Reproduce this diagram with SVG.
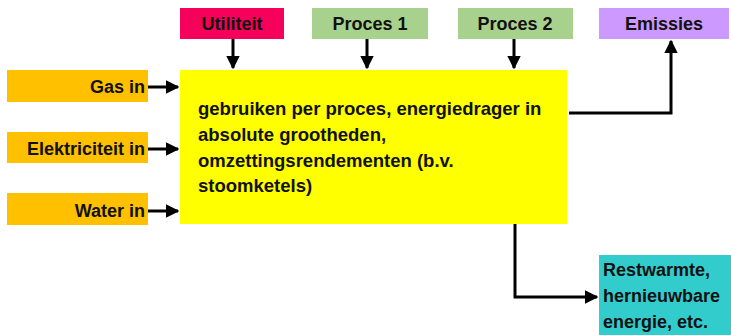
<svg xmlns="http://www.w3.org/2000/svg" width="731" height="335" viewBox="0 0 731 335">
<style>
text{font-family:"Liberation Sans",Arial,sans-serif;font-weight:bold;fill:#111;}
.lbl{font-size:18px;}
.mid{text-anchor:middle;}
.end{text-anchor:end;}
.main{font-size:18.5px;}
.c{stroke:#000;stroke-width:3;fill:none;}
</style>
<defs>
<marker id="ah" viewBox="0 0 10 10" refX="9" refY="5" markerWidth="4.5" markerHeight="4.5" orient="auto" markerUnits="strokeWidth">
<path d="M0,0 L10,5 L0,10 z" fill="#000"/>
</marker>
</defs>
<rect width="731" height="335" fill="#fff"/>
<g id="utiliteit"><rect x="180" y="8" width="104" height="31" fill="#F5005A"/><text class="lbl mid" x="232" y="30">Utiliteit</text></g>
<g id="proces1"><rect x="312" y="8" width="116" height="31" fill="#A9D18E"/><text class="lbl mid" x="370" y="30">Proces 1</text></g>
<g id="proces2"><rect x="458" y="8" width="115" height="31" fill="#A9D18E"/><text class="lbl mid" x="515" y="30">Proces 2</text></g>
<g id="emissies"><rect x="599" y="8" width="130" height="31" fill="#CC99FF"/><text class="lbl mid" x="664" y="30">Emissies</text></g>
<g id="gas"><rect x="7" y="70" width="141" height="32" fill="#FFC000"/><text class="lbl end" x="145" y="93">Gas in</text></g>
<g id="elek"><rect x="7" y="132" width="141" height="31" fill="#FFC000"/><text class="lbl end" x="145" y="155">Elektriciteit in</text></g>
<g id="water"><rect x="7" y="193" width="141" height="32" fill="#FFC000"/><text class="lbl end" x="145" y="217">Water in</text></g>
<g id="main"><rect x="180" y="70" width="387" height="154" fill="#FFFF00"/>
<text class="main" x="198" y="115">gebruiken per proces, energiedrager in</text>
<text class="main" x="198" y="141">absolute grootheden,</text>
<text class="main" x="198" y="167">omzettingsrendementen (b.v.</text>
<text class="main" x="198" y="192">stoomketels)</text></g>
<g id="rest"><rect x="599" y="255" width="132" height="80" fill="#33CCCC"/>
<text class="lbl" x="603" y="276">Restwarmte,</text>
<text class="lbl" x="603" y="302">hernieuwbare</text>
<text class="lbl" x="603" y="328">energie, etc.</text></g>
<g id="connectors">
<path class="c" d="M233,39 V68" marker-end="url(#ah)"/>
<path class="c" d="M367,39 V68" marker-end="url(#ah)"/>
<path class="c" d="M514,39 V68" marker-end="url(#ah)"/>
<path class="c" d="M148,87 H178" marker-end="url(#ah)"/>
<path class="c" d="M148,149 H178" marker-end="url(#ah)"/>
<path class="c" d="M148,211 H178" marker-end="url(#ah)"/>
<path class="c" d="M569,113 H671 V41" marker-end="url(#ah)"/>
<path class="c" d="M515,224 V297 H597" marker-end="url(#ah)"/>
</g>
</svg>
